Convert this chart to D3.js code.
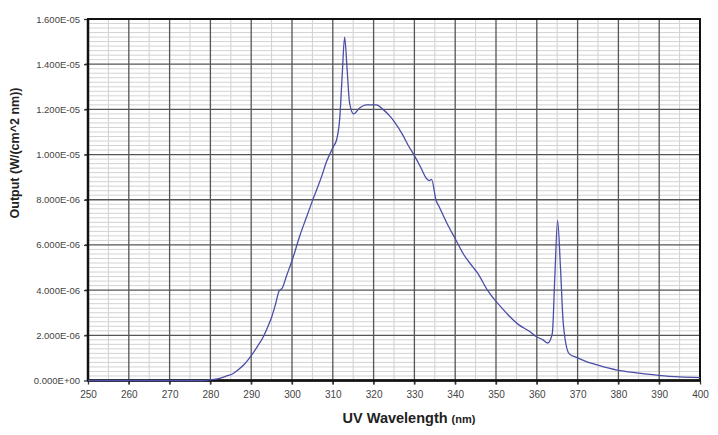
<!DOCTYPE html>
<html>
<head>
<meta charset="utf-8">
<script src="https://cdn.jsdelivr.net/npm/d3@7"></script>
<style>
  html, body { margin: 0; padding: 0; background: #fff; }
  svg { display: block; }
</style>
</head>
<body>
<svg id="chart" width="718" height="435"></svg>
<script>
// ---- Data ----
const wavelength = [250, 260, 270, 278, 280, 282, 284, 285.6, 287, 288.5, 290, 291.5, 293, 294, 295, 296, 296.8, 297.7, 298.5, 300, 302, 303.5, 305, 307.2, 308.5, 310, 311, 311.7, 312.3, 312.9, 313.5, 314.1, 315.1, 316.5, 318.2, 320.7, 322.3, 324, 325.1, 327.2, 328.5, 330, 331.5, 332.9, 333.6, 334.2, 335.3, 336.1, 338, 340.2, 342, 344.3, 345.5, 347.9, 350, 351.2, 353, 355.7, 358, 359.8, 361.5, 362.7, 363.8, 364.4, 365.1, 365.8, 366.5, 367.9, 370, 372, 375, 379.7, 385, 389.9, 395, 400];
// Output in units of 1e-6 W/(cm^2 nm)
const outputE6 = [0, 0, 0, 0, 0.03, 0.08, 0.2, 0.31, 0.5, 0.75, 1.1, 1.5, 1.95, 2.35, 2.8, 3.4, 3.95, 4.12, 4.55, 5.3, 6.45, 7.2, 7.95, 9.0, 9.7, 10.3, 10.7, 11.6, 13.5, 15.2, 13.8, 12.3, 11.8, 12.05, 12.2, 12.2, 12.0, 11.7, 11.45, 10.85, 10.4, 9.95, 9.45, 8.95, 8.85, 8.9, 7.98, 7.68, 6.95, 6.21, 5.6, 5.03, 4.75, 4.0, 3.5, 3.26, 2.9, 2.45, 2.2, 1.95, 1.8, 1.66, 2.08, 4.5, 7.09, 5.0, 2.5, 1.19, 1.0, 0.85, 0.68, 0.46, 0.33, 0.23, 0.16, 0.13];
const xTicks = [250, 260, 270, 280, 290, 300, 310, 320, 330, 340, 350, 360, 370, 380, 390, 400];
const yTicks = [0, 2e-6, 4e-6, 6e-6, 8e-6, 1e-5, 1.2e-5, 1.4e-5, 1.6e-5];
const xTitle = "UV Wavelength";
const xUnit = "(nm)";
const yTitle = "Output (W/(cm^2 nm))";

const data = wavelength.map((w, i) => ({ x: w, y: outputE6[i] * 1e-6 }));

// ---- Layout ----
const svg = d3.select("#chart");
const L = 88, T = 19, R = 700, B = 380.5;
const x = d3.scaleLinear().domain([250, 400]).range([L, R]);
const y = d3.scaleLinear().domain([0, 1.6e-5]).range([B, T]);

function sci(v) {
  const s = d3.format(".3e")(v); // e.g. 1.600e-5
  const [m, e] = s.split("e");
  let n = parseInt(e, 10);
  const sign = n < 0 ? "-" : "+";
  n = Math.abs(n);
  return m + "E" + sign + (n < 10 ? "0" + n : "" + n);
}

// minor grid
const g = svg.append("g");
const minorX = d3.range(255, 400, 10);
g.selectAll("line.mx").data(minorX).enter().append("line")
  .attr("x1", d => x(d)).attr("x2", d => x(d))
  .attr("y1", T).attr("y2", B)
  .attr("stroke", "#cfcfcf").attr("stroke-width", 1);
const minorY = d3.range(0, 81).map(i => i * 2e-7).filter((d, i) => i % 10 !== 0);
g.selectAll("line.my").data(minorY).enter().append("line")
  .attr("x1", L).attr("x2", R)
  .attr("y1", d => y(d)).attr("y2", d => y(d))
  .attr("stroke", "#d3d3d3").attr("stroke-width", 1);

// major grid
g.selectAll("line.Mx").data(xTicks.slice(1, -1)).enter().append("line")
  .attr("x1", d => x(d)).attr("x2", d => x(d))
  .attr("y1", T).attr("y2", B + 4)
  .attr("stroke", "#555").attr("stroke-width", 1.3);
g.selectAll("line.My").data(yTicks.slice(1, -1)).enter().append("line")
  .attr("x1", L - 3).attr("x2", R)
  .attr("y1", d => y(d)).attr("y2", d => y(d))
  .attr("stroke", "#555").attr("stroke-width", 1.3);

// axes (labels via d3 axes)
const xAxis = d3.axisBottom(x).tickValues(xTicks).tickSize(4).tickPadding(6).tickFormat(d3.format("d"));
const gx = svg.append("g").attr("transform", `translate(0,${B})`).call(xAxis);
gx.select(".domain").remove();
gx.selectAll(".tick line").attr("stroke", "#333").attr("stroke-width", 1.3);
gx.selectAll("text").attr("font-family", "Liberation Sans, Arial, sans-serif")
  .attr("font-size", 10).attr("fill", "#444");

const yAxis = d3.axisLeft(y).tickValues(yTicks).tickSize(4).tickPadding(4).tickFormat(sci);
const gy = svg.append("g").attr("transform", `translate(${L},0)`).call(yAxis);
gy.select(".domain").remove();
gy.selectAll(".tick line").attr("stroke", "#333").attr("stroke-width", 1.3);
gy.selectAll("text").attr("font-family", "Liberation Sans, Arial, sans-serif")
  .attr("font-size", 9.5).attr("fill", "#444");

// frame
svg.append("rect").attr("x", L).attr("y", T).attr("width", R - L).attr("height", B - T)
  .attr("fill", "none").attr("stroke", "#111").attr("stroke-width", 2);
svg.append("line").attr("x1", L).attr("x2", L).attr("y1", T).attr("y2", B)
  .attr("stroke", "#111").attr("stroke-width", 2.5);
svg.append("line").attr("x1", L).attr("x2", R).attr("y1", B).attr("y2", B)
  .attr("stroke", "#111").attr("stroke-width", 2.5);

// data line
const line = d3.line().x(d => x(d.x)).y(d => y(d.y)).curve(d3.curveMonotoneX);
svg.append("path").datum(data).attr("d", line)
  .attr("fill", "none").attr("stroke", "#4b4ea8").attr("stroke-width", 1.3);

// titles
const xt = svg.append("text").attr("x", 409).attr("y", 423)
  .attr("text-anchor", "middle")
  .attr("font-family", "Liberation Sans, Arial, sans-serif").attr("font-weight", "bold").attr("fill", "#222");
xt.append("tspan").attr("font-size", 14.5).text(xTitle + " ");
xt.append("tspan").attr("font-size", 11).text(xUnit);

svg.append("text").attr("transform", "translate(19,153) rotate(-90)")
  .attr("text-anchor", "middle")
  .attr("font-family", "Liberation Sans, Arial, sans-serif").attr("font-weight", "bold")
  .attr("font-size", 12.5).attr("fill", "#222").text(yTitle);
</script>
</body>
</html>
